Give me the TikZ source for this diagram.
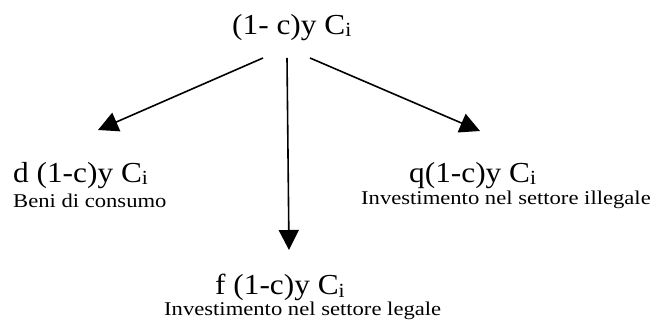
\documentclass[tikz,border=0pt]{standalone}
\usepackage{fontspec}
\setmainfont{Liberation Serif}
\newfontfamily\bigf[FakeStretch=1.08]{Liberation Serif}
\newfontfamily\smallf[FakeStretch=1.16]{Liberation Serif}
\usetikzlibrary{arrows.meta}
\newcommand\myCi{C\raisebox{-2pt}{\fontsize{20}{20}\selectfont i}}
\tikzset{
  bigtext/.style={anchor=base west,inner sep=0pt,font=\bigf\fontsize{29}{32}\selectfont},
  smalltext/.style={anchor=base west,inner sep=0pt,font=\smallf\fontsize{19.5}{22}\selectfont},
  arr/.style={line width=1.6pt,-{Triangle[length=20pt,width=20pt]}}
}
\begin{document}
\begin{tikzpicture}[x=1pt,y=-1pt]
\useasboundingbox (0,0) rectangle (656,320);
\node[bigtext] (top) at (232,35) {(1- c)y \myCi};
\node[bigtext] (d) at (13,183) {d (1-c)y \myCi};
\node[smalltext] (dl) at (13,208) {Beni di consumo};
\node[bigtext] (q) at (409,183) {q(1-c)y \myCi};
\node[smalltext] (ql) at (361,205) {Investimento nel settore illegale};
\node[bigtext] (f) at (215,295) {f (1-c)y \myCi};
\node[smalltext] (fl) at (164,316) {Investimento nel settore legale};
\coordinate (s1) at (263,58);
\coordinate (s2) at (287,58);
\coordinate (s3) at (310,58);
\coordinate (e1) at (98,130);
\coordinate (e2) at (289,250);
\coordinate (e3) at (480,131);
\draw[arr] (s1) -- (e1);
\draw[arr] (s2) -- (e2);
\draw[arr] (s3) -- (e3);
\end{tikzpicture}
\end{document}
